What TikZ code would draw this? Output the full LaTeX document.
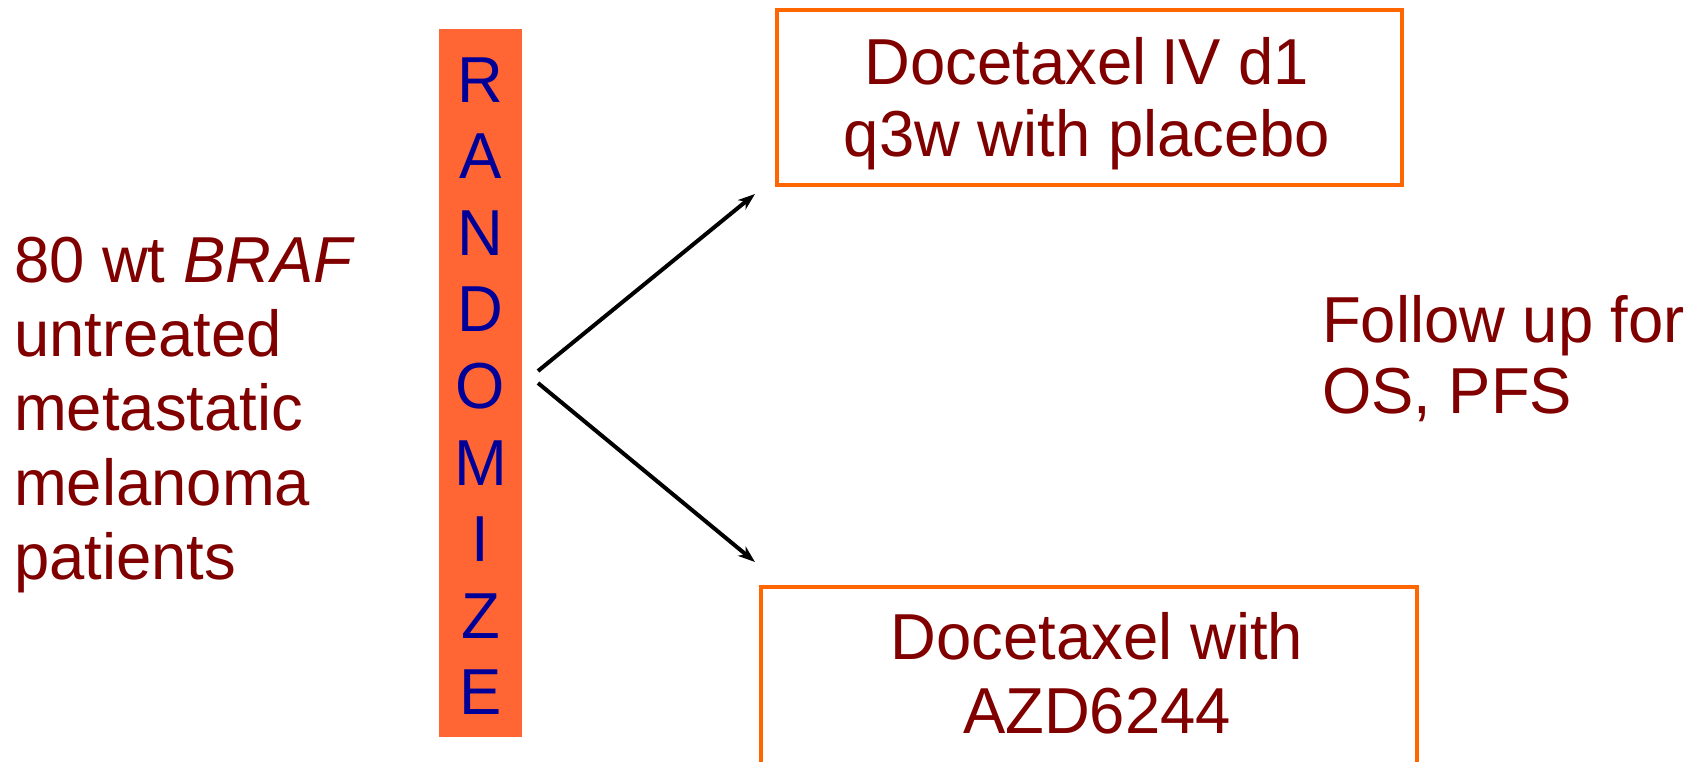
\documentclass[tikz,border=0pt]{standalone}
\usepackage{fontspec}
\setmainfont[FakeStretch=0.975]{Liberation Sans}
\usetikzlibrary{arrows.meta}
\definecolor{txtred}{HTML}{800000}
\definecolor{barfill}{HTML}{FF6633}
\definecolor{letblue}{HTML}{000099}
\definecolor{boxline}{HTML}{FF6600}
\tikzset{
  big/.style={font=\fontsize{65}{72}\selectfont, inner sep=0pt},
  redtxt/.style={big, text=txtred},
  bluetxt/.style={big, text=letblue},
  armbox/.style={draw=boxline, line width=4pt, fill=none},
  conn/.style={line width=4pt, -{Stealth[length=17pt,width=12pt,inset=5pt]}},
}
\begin{document}
\begin{tikzpicture}[x=1pt,y=-1pt]
\useasboundingbox (0,0) rectangle (1702,761);
\clip (0,0) rectangle (1702,761);
% left text
\node[redtxt, anchor=base west] (t1) at (14,282) {80 wt \textit{BRAF}};
\node[redtxt, anchor=base west] (t2) at (14,356) {untreated};
\node[redtxt, anchor=base west] (t3) at (14,430) {metastatic};
\node[redtxt, anchor=base west] (t4) at (14,505) {melanoma};
\node[redtxt, anchor=base west] (t5) at (14,579) {patients};
% randomize bar
\path[fill=barfill] (439,29) rectangle (522,737);
\foreach \L [count=\i from 0] in {R,A,N,D,O,M,I,Z,E} {
  \node[bluetxt, anchor=base] (r\i) at (480.5,{102+76.6*\i}) {\L};
}
% top box
\draw[armbox] (777,10) rectangle (1402,185);
\node[redtxt, anchor=base] (b1a) at (1087,84) {Docetaxel\hspace{-3pt} IV d1};
\node[redtxt, anchor=base] (b1b) at (1087,156) {q3w with placebo};
% bottom box
\draw[armbox] (761,587) rectangle (1417,790);
\node[redtxt, anchor=base] (b2a) at (1097,659) {Docetaxel with};
\node[redtxt, anchor=base] (b2b) at (1097,733) {AZD6244};
% follow up
\node[redtxt, anchor=base west] (f1) at (1322,342) {Follow up for};
\node[redtxt, anchor=base west] (f2) at (1322,413) {OS, PFS};
% arrows
\coordinate (s1) at (538,371);
\coordinate (e1) at (755,194);
\coordinate (s2) at (538,383);
\coordinate (e2) at (755,562);
\draw[conn] (s1) -- (e1);
\draw[conn] (s2) -- (e2);
\end{tikzpicture}
\end{document}
